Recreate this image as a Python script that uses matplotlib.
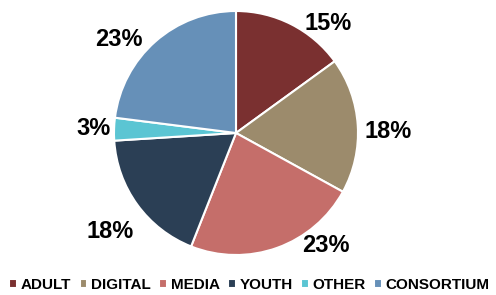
import numpy as np
import matplotlib
matplotlib.use("Agg")
import matplotlib.pyplot as plt

# Datos del gráfico
categorias = ["ADULT", "DIGITAL", "MEDIA", "YOUTH", "OTHER", "CONSORTIUM"]
porcentajes = [15, 18, 23, 18, 3, 23]
colores = ["#7A3030", "#9C8B6C", "#C56E6A", "#2B3F55", "#5BC5D3", "#6690B8"]

# Ajustes de las etiquetas (distancia en radios, giro en grados)
dist_etiqueta = [1.17, 1.25, 1.18, 1.31, 1.17, 1.23]
giro_etiqueta = [-13, -3, 19, 2, 0, 10]

plt.rcParams['font.family'] = ['Liberation Sans', 'DejaVu Sans']

fig = plt.figure(figsize=(4.96, 2.95), dpi=100)
W, H = 496, 295
cx, cy, r = 236, 295 - 133, 122
k = 1.02
ax = fig.add_axes([(cx - r * k) / W, (cy - r * k) / H, 2 * r * k / W, 2 * r * k / H])

cuñas, _ = ax.pie(porcentajes, colors=colores, startangle=90, counterclock=False,
                  radius=1, wedgeprops=dict(edgecolor='white', linewidth=1.5))
ax.set_xlim(-k, k)
ax.set_ylim(-k, k)
ax.set_aspect('equal')
ax.axis('off')

for cuña, p, d, g in zip(cuñas, porcentajes, dist_etiqueta, giro_etiqueta):
    ang = np.deg2rad((cuña.theta1 + cuña.theta2) / 2 + g)
    ax.text(d * np.cos(ang), d * np.sin(ang), f"{p}%", ha='center', va='center',
            fontsize=17, fontweight='bold', color='black', clip_on=False)

fig.legend(cuñas, categorias, loc='lower center', bbox_to_anchor=(0.503, -0.035), ncol=6,
           frameon=False, handlelength=0.5, handleheight=0.5, handletextpad=0.25,
           columnspacing=0.55, prop=dict(size=11, weight='bold'))

fig.savefig("out.png", dpi=100)
